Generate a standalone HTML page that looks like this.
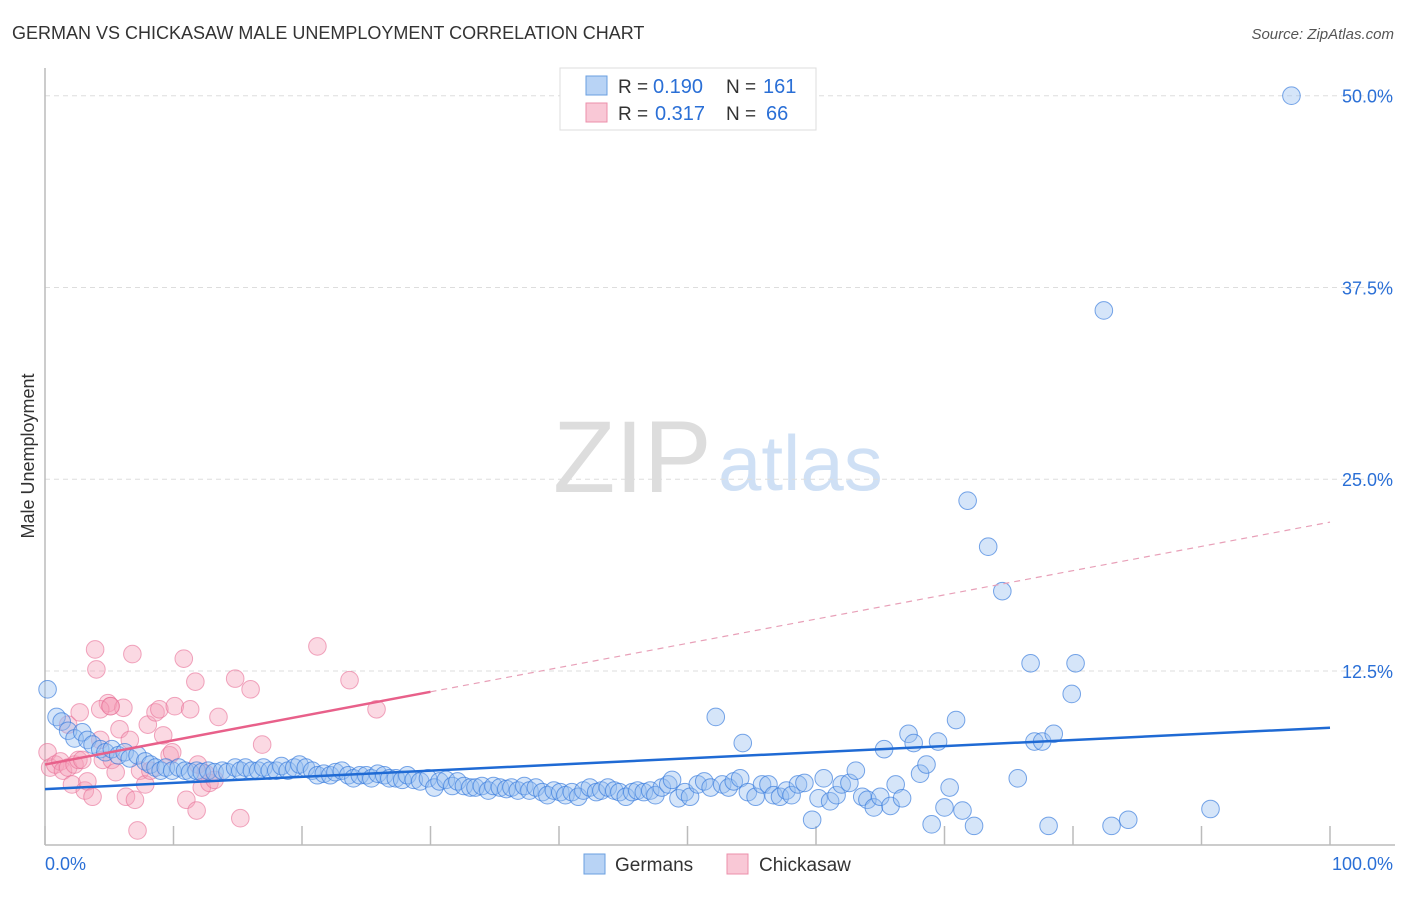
<!DOCTYPE html>
<html><head><meta charset="utf-8"><style>
body{margin:0;background:#fff;font-family:"Liberation Sans",sans-serif;}
svg text{font-family:"Liberation Sans",sans-serif;}
</style></head><body>
<svg id="chart" width="1406" height="892" viewBox="0 0 1406 892" xmlns="http://www.w3.org/2000/svg">
<text x="12" y="39" font-size="18" fill="#333">GERMAN VS CHICKASAW MALE UNEMPLOYMENT CORRELATION CHART</text>
<text x="1394" y="39" font-size="15" fill="#555" font-style="italic" text-anchor="end">Source: ZipAtlas.com</text>
<text x="34" y="456" font-size="18" fill="#333" text-anchor="middle" transform="rotate(-90 34 456)">Male Unemployment</text>
<text x="553" y="492" font-size="102" fill="#ddd" font-family="Liberation Serif">ZIP</text>
<text x="718" y="490" font-size="78" fill="#cfe0f5">atlas</text>
<g id="grid"></g>
<g id="axes"></g>
<g id="marks"></g>
<g id="trends"></g>
<g>
<rect x="560" y="68" width="256" height="62" fill="#fff" stroke="#ddd"/>
<rect x="586" y="76" width="21" height="19" fill="#b8d3f5" stroke="#6a9fe0"/>
<rect x="586" y="103" width="21" height="19" fill="#f9c8d6" stroke="#ec8fab"/>
<text x="618" y="93" font-size="19" fill="#333">R =</text>
<text x="653" y="93" font-size="20" fill="#2a6fd6">0.190</text>
<text x="726" y="93" font-size="19" fill="#333">N =</text>
<text x="763" y="93" font-size="20" fill="#2a6fd6">161</text>
<text x="618" y="120" font-size="19" fill="#333">R =</text>
<text x="655" y="120" font-size="20" fill="#2a6fd6">0.317</text>
<text x="726" y="120" font-size="19" fill="#333">N =</text>
<text x="766" y="120" font-size="20" fill="#2a6fd6">66</text>
</g>
<g>
<rect x="584" y="854" width="21" height="20" fill="#b8d3f5" stroke="#6a9fe0"/>
<text x="615" y="871" font-size="19" fill="#333">Germans</text>
<rect x="727" y="854" width="21" height="20" fill="#f9c8d6" stroke="#ec8fab"/>
<text x="759" y="871" font-size="19" fill="#333">Chickasaw</text>
</g>
</svg>
<script>
const yTicks=[12.5,25,37.5,50];
const yTickLabels=["12.5%","25.0%","37.5%","50.0%"];
const xTickVals=[0,10,20,30,40,50,60,70,80,90,100];
const germanX=[0.2,0.9,1.3,1.8,2.3,2.9,3.3,3.7,4.3,4.7,5.2,5.7,6.2,6.6,7.2,7.8,8.2,8.6,9.0,9.4,9.9,10.4,10.9,11.3,11.8,12.2,12.7,13.2,13.8,14.2,14.8,15.2,15.6,16.1,16.6,17.0,17.5,18.0,18.4,18.9,19.4,19.8,20.3,20.8,21.2,21.7,22.2,22.6,23.1,23.6,24.0,24.5,25.0,25.4,25.9,26.4,26.8,27.3,27.8,28.2,28.7,29.2,29.8,30.3,30.7,31.2,31.7,32.1,32.6,33.1,33.5,34.0,34.5,34.9,35.4,35.9,36.3,36.8,37.3,37.7,38.2,38.7,39.1,39.6,40.1,40.5,41.0,41.5,41.9,42.4,42.9,43.3,43.8,44.3,44.7,45.2,45.7,46.1,46.6,47.1,47.5,48.0,48.5,48.8,49.3,49.8,50.2,50.8,51.3,51.8,52.2,52.7,53.2,53.6,54.1,54.3,54.7,55.3,55.8,56.3,56.7,57.2,57.7,58.1,58.6,59.1,59.7,60.2,60.6,61.1,61.6,62.0,62.6,63.1,63.6,64.0,64.5,65.0,65.3,65.8,66.2,66.7,67.2,67.6,68.1,68.6,69.0,69.5,70.0,70.4,70.9,71.4,71.8,72.3,73.4,74.5,75.7,76.7,77.0,77.6,78.1,78.5,79.9,80.2,82.4,83.0,84.3,90.7,97.0];
const germanY=[11.3,9.5,9.2,8.6,8.1,8.5,8.0,7.7,7.4,7.2,7.4,7.0,7.2,6.8,7.0,6.6,6.4,6.2,6.0,6.2,6.0,6.2,6.0,5.9,6.0,5.9,6.0,5.9,6.0,5.9,6.2,6.0,6.2,6.0,6.0,6.2,6.0,6.0,6.3,6.0,6.2,6.4,6.2,6.0,5.7,5.8,5.7,5.9,6.0,5.7,5.5,5.7,5.7,5.5,5.8,5.7,5.5,5.5,5.4,5.7,5.4,5.3,5.5,4.9,5.3,5.4,5.0,5.3,5.0,4.9,4.9,5.0,4.7,5.0,4.9,4.8,4.9,4.7,5.0,4.7,4.9,4.6,4.4,4.7,4.6,4.4,4.6,4.3,4.7,4.9,4.6,4.7,4.9,4.7,4.6,4.3,4.6,4.7,4.6,4.7,4.4,4.9,5.1,5.4,4.2,4.6,4.3,5.1,5.3,4.9,9.5,5.1,4.9,5.3,5.5,7.8,4.6,4.3,5.1,5.1,4.4,4.3,4.7,4.4,5.1,5.2,2.8,4.2,5.5,4.0,4.4,5.1,5.2,6.0,4.3,4.1,3.6,4.3,7.4,3.7,5.1,4.2,8.4,7.8,5.8,6.4,2.5,7.9,3.6,4.9,9.3,3.4,23.6,2.4,20.6,17.7,5.5,13.0,7.9,7.9,2.4,8.4,11.0,13.0,36.0,2.4,2.8,3.5,50.0];
const chickX=[0.2,0.4,0.8,1.2,1.4,1.8,2.1,2.3,2.6,2.9,3.1,3.3,3.7,3.9,4.0,4.3,4.5,4.9,5.1,5.2,5.5,5.8,6.1,6.3,6.6,6.8,7.0,7.2,7.4,7.8,8.0,8.2,8.6,8.9,9.2,9.7,9.9,10.1,10.8,11.0,11.3,11.7,11.8,11.9,12.2,12.5,12.8,13.2,13.5,14.8,15.2,16.0,16.9,21.2,23.7,25.8,1.8,2.7,4.3,5.1];
const chickY=[7.2,6.2,6.4,6.6,6.0,6.2,5.1,6.4,6.7,6.7,4.7,5.3,4.3,13.9,12.6,8.0,6.7,10.4,10.2,6.7,5.9,8.7,10.1,4.3,8.0,13.6,4.1,2.1,6.0,5.1,9.0,6.0,9.8,10.0,8.3,7.0,7.2,10.2,13.3,4.1,10.0,11.8,3.4,6.4,4.9,5.8,5.2,5.4,9.5,12.0,2.9,11.3,7.7,14.1,11.9,10.0,9.0,9.8,10.0,10.2];
const germanTrend=[4.8,8.8];
const chickTrend=[6.4,22.2];
const X0=45,X1=1330,Y0=862.7,YPER=15.34;
function sx(v){return X0+(X1-X0)*v/100;}
function sy(v){return Y0-v*YPER;}
const NS="http://www.w3.org/2000/svg";
function mk(tag,attrs,parent){const e=document.createElementNS(NS,tag);for(const k in attrs)e.setAttribute(k,attrs[k]);parent.appendChild(e);return e;}
const grid=document.getElementById('grid'),axes=document.getElementById('axes'),marks=document.getElementById('marks'),trends=document.getElementById('trends');
yTicks.forEach((t,i)=>{
 const l=mk('line',{x1:45,x2:1395,y1:sy(t),y2:sy(t),stroke:'#ddd','stroke-dasharray':'5,4'},grid);
 
 
 const tx=mk('text',{x:1393,y:sy(t)+7,'font-size':18,fill:'#2a6fd6','text-anchor':'end'},axes);
 tx.textContent=yTickLabels[i];
 
 
});
const ya=mk('line',{x1:45,x2:45,y1:68,y2:845,stroke:'#bbb','stroke-width':1.5},axes);


const xa=mk('line',{x1:45,x2:1395,y1:845,y2:845,stroke:'#bbb','stroke-width':1.5},axes);


xTickVals.forEach(v=>{
 const t=mk('line',{x1:sx(v),x2:sx(v),y1:826,y2:845,stroke:'#bbb','stroke-width':1.5},axes);
 
 
});
const xl0=mk('text',{x:45,y:870,'font-size':18,fill:'#2a6fd6'},axes);xl0.textContent='0.0%';


const xl1=mk('text',{x:1393,y:870,'font-size':18,fill:'#2a6fd6','text-anchor':'end'},axes);xl1.textContent='100.0%';


chickX.forEach((x,i)=>{
 const c=mk('circle',{cx:sx(x),cy:sy(chickY[i]),r:8.8,fill:'rgba(244,160,186,0.4)',stroke:'rgba(232,110,150,0.6)','stroke-width':1},marks);
 
 
});
germanX.forEach((x,i)=>{
 const c=mk('circle',{cx:sx(x),cy:sy(germanY[i]),r:8.8,fill:'rgba(150,190,240,0.4)',stroke:'rgba(50,120,220,0.65)','stroke-width':1},marks);
 
 
});
const gt=mk('line',{x1:sx(0),y1:sy(germanTrend[0]),x2:sx(100),y2:sy(germanTrend[1]),stroke:'#1f6ad4','stroke-width':2.5},trends);


const cm=chickTrend[0]+(chickTrend[1]-chickTrend[0])*0.3;
const ct=mk('line',{x1:sx(0),y1:sy(chickTrend[0]),x2:sx(30),y2:sy(cm),stroke:'#e8608a','stroke-width':2.5},trends);


const cd=mk('line',{x1:sx(30),y1:sy(cm),x2:sx(100),y2:sy(chickTrend[1]),stroke:'#e8a0b8','stroke-width':1.2,'stroke-dasharray':'6,5'},trends);


</script>
</body></html>
